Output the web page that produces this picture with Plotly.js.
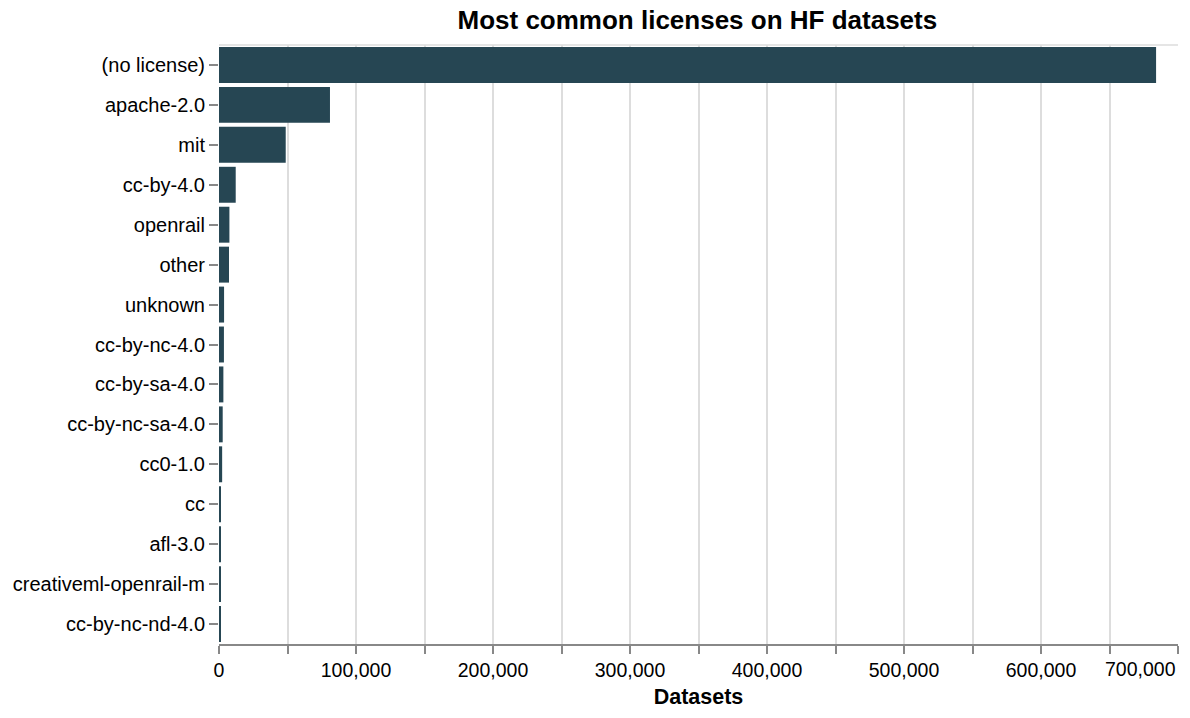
<!DOCTYPE html>
<html>
<head>
<meta charset="utf-8">
<script src="https://cdn.plot.ly/plotly-3.0.1.min.js"></script>
<style>
  html, body { margin: 0; padding: 0; background: #fff; }
  #chart { width: 1190px; height: 718px; }
</style>
</head>
<body>
<div id="chart"></div>
<script>
// licenses, most common first
var licenses = ['(no license)', 'apache-2.0', 'mit', 'cc-by-4.0', 'openrail', 'other',
  'unknown', 'cc-by-nc-4.0', 'cc-by-sa-4.0', 'cc-by-nc-sa-4.0', 'cc0-1.0', 'cc',
  'afl-3.0', 'creativeml-openrail-m', 'cc-by-nc-nd-4.0'];
var datasets = [684000, 81000, 48700, 12200, 7600, 7300,
  3700, 3600, 3200, 2700, 2300, 1300,
  1000, 900, 800];
var xTicks = [0, 100000, 200000, 300000, 400000, 500000, 600000, 700000];

var barColor = '#264653';
var font = 'Liberation Sans, Arial, Helvetica, sans-serif';
var xMax = xTicks[xTicks.length - 1];

// last tick label is drawn right-aligned at the axis end so it stays inside
var tickText = xTicks.map(function(v, i) {
  return i === xTicks.length - 1 ? '' : v.toLocaleString('en-US');
});

var trace = {
  type: 'bar',
  orientation: 'h',
  x: datasets,
  y: licenses,
  marker: {color: barColor},
  hoverinfo: 'x+y'
};

var layout = {
  width: 1190, height: 718,
  margin: {l: 219, r: 12, t: 45, b: 74},
  paper_bgcolor: '#fff',
  plot_bgcolor: '#fff',
  font: {family: font, size: 19, color: '#000'},
  title: {
    text: '<b>Most common licenses on HF datasets</b>',
    font: {family: font, size: 26, color: '#000'},
    x: 0.586, xanchor: 'center',
    y: 0.972, yanchor: 'middle'
  },
  bargap: 0.1,
  xaxis: {
    range: [0, xMax + 1],
    tickvals: xTicks,
    ticktext: tickText,
    tickfont: {size: 19.5},
    showgrid: true,
    gridcolor: '#ddd',
    gridwidth: 1.5,
    zeroline: false,
    showline: true,
    linecolor: '#888',
    linewidth: 1.5,
    ticks: 'outside',
    ticklen: 8,
    tickwidth: 1.5,
    tickcolor: '#888',
    minor: {dtick: 50000, showgrid: true, gridcolor: '#ddd', gridwidth: 1.5,
      ticks: 'outside', ticklen: 8, tickwidth: 1.5, tickcolor: '#888'},
    title: {text: '<b>Datasets</b>', font: {size: 21.5}, standoff: 9},
    fixedrange: true
  },
  yaxis: {
    autorange: 'reversed',
    categoryorder: 'array',
    categoryarray: licenses,
    showgrid: false,
    zeroline: false,
    showline: false,
    ticks: 'outside',
    ticklen: 9,
    tickwidth: 1.5,
    tickcolor: '#888',
    tickfont: {size: 20},
    fixedrange: true
  },
  annotations: [{
    x: xMax, xref: 'x', xanchor: 'right',
    y: 0, yref: 'paper', yanchor: 'top', yshift: -12,
    text: xMax.toLocaleString('en-US'),
    showarrow: false,
    font: {family: font, size: 19.5, color: '#000'}
  }],
  shapes: [{
    type: 'line', xref: 'paper', yref: 'paper',
    x0: 0, x1: 1, y0: 1, y1: 1,
    line: {color: '#ddd', width: 1.5}
  }]
};

Plotly.newPlot('chart', [trace], layout, {displayModeBar: false});
</script>
</body>
</html>
